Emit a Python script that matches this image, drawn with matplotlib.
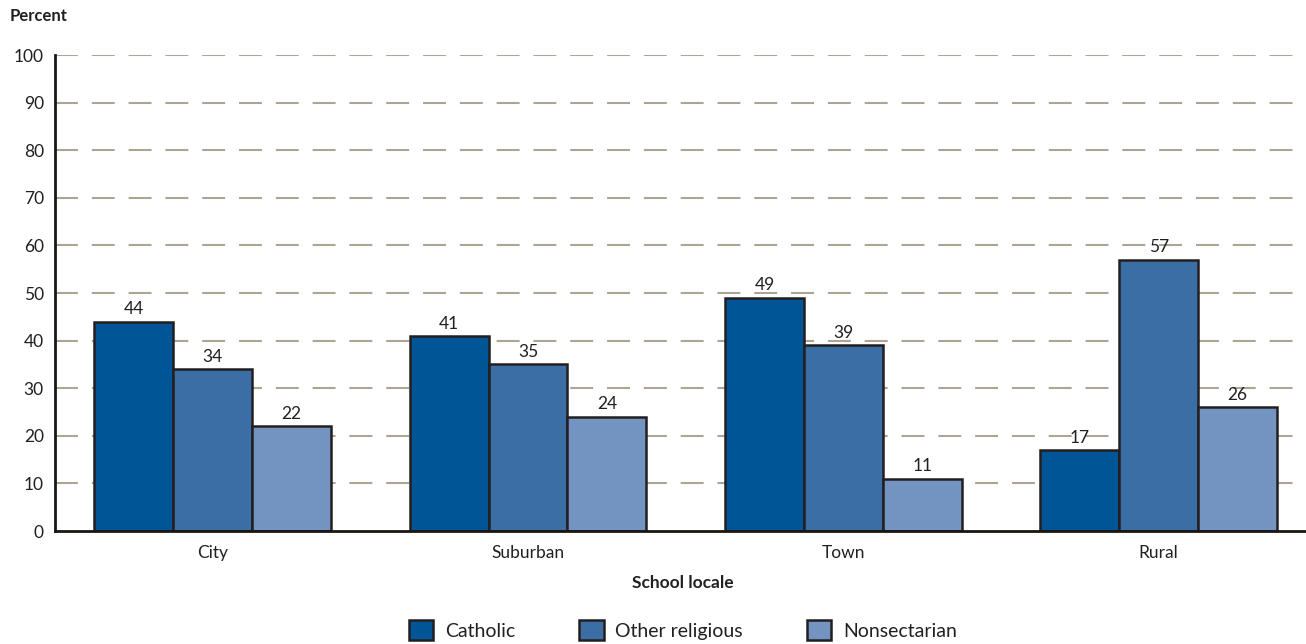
import numpy as np
import matplotlib.pyplot as plt
from matplotlib.patches import Patch

# Datos del gráfico
locales = ['City', 'Suburban', 'Town', 'Rural']
catholic = [44, 41, 49, 17]
other_religious = [34, 35, 39, 57]
nonsectarian = [22, 24, 11, 26]
series_names = ['Catholic', 'Other religious', 'Nonsectarian']
colors = ['#005596', '#3a6ea5', '#7393c0']

plt.rcParams['font.family'] = ['Lato', 'DejaVu Sans']
plt.rcParams['lines.scale_dashes'] = False
dark = '#231f20'

fig = plt.figure(figsize=(13.06, 6.44), dpi=100)
ax = fig.add_axes([55 / 1306, (644 - 531) / 644, 1 - 55 / 1306, (531 - 55) / 644])

x = np.arange(len(locales))
width = 0.25
for i, (vals, c) in enumerate(zip([catholic, other_religious, nonsectarian], colors)):
    pos = x + (i - 1) * width
    bars = ax.bar(pos, vals, width, color=c, edgecolor=dark, linewidth=1.8, zorder=3)
    for b, v in zip(bars, vals):
        ax.text(b.get_x() + b.get_width() / 2, v + 0.9, str(v), ha='center', va='bottom',
                fontsize=12.5, color=dark, zorder=4)

ax.set_xlim(-0.5, 3.467)
ax.set_ylim(0, 100)
ax.set_yticks(range(0, 101, 10))
ax.yaxis.grid(True, color='#aca496', linewidth=1.5, linestyle=(0, (16.5, 10)), zorder=0)
ax.set_axisbelow(True)
ax.set_xticks(x)
ax.set_xticklabels(locales)
ax.tick_params(axis='both', length=0, labelsize=12.5, colors=dark)
ax.tick_params(axis='x', pad=10)
ax.tick_params(axis='y', pad=8)
for s in ['top', 'right']:
    ax.spines[s].set_visible(False)
for s in ['left', 'bottom']:
    ax.spines[s].set_color('#1a1613')
    ax.spines[s].set_linewidth(2.0)
    ax.spines[s].set_zorder(6)
# ocultamos la línea de la cuadrícula en 0 para que no tape el eje
ax.yaxis.get_gridlines()[0].set_visible(False)

fig.text(10 / 1306, 1 - 16 / 644, 'Percent', fontsize=12, fontweight='bold', color=dark, va='center')
fig.text(683 / 1306, 1 - 583 / 644, 'School locale', fontsize=12.5, fontweight='bold', color=dark,
         ha='center', va='center')

handles = [Patch(facecolor=c, edgecolor=dark, linewidth=1.8) for c in colors]
fig.legend(handles, series_names, loc='center', bbox_to_anchor=(683 / 1306, 1 - 630 / 644), ncol=3,
           frameon=False, fontsize=14, handlelength=1.25, handleheight=1.25, columnspacing=3.3,
           handletextpad=0.6, labelcolor=dark)

plt.savefig('out.png', dpi=100)
